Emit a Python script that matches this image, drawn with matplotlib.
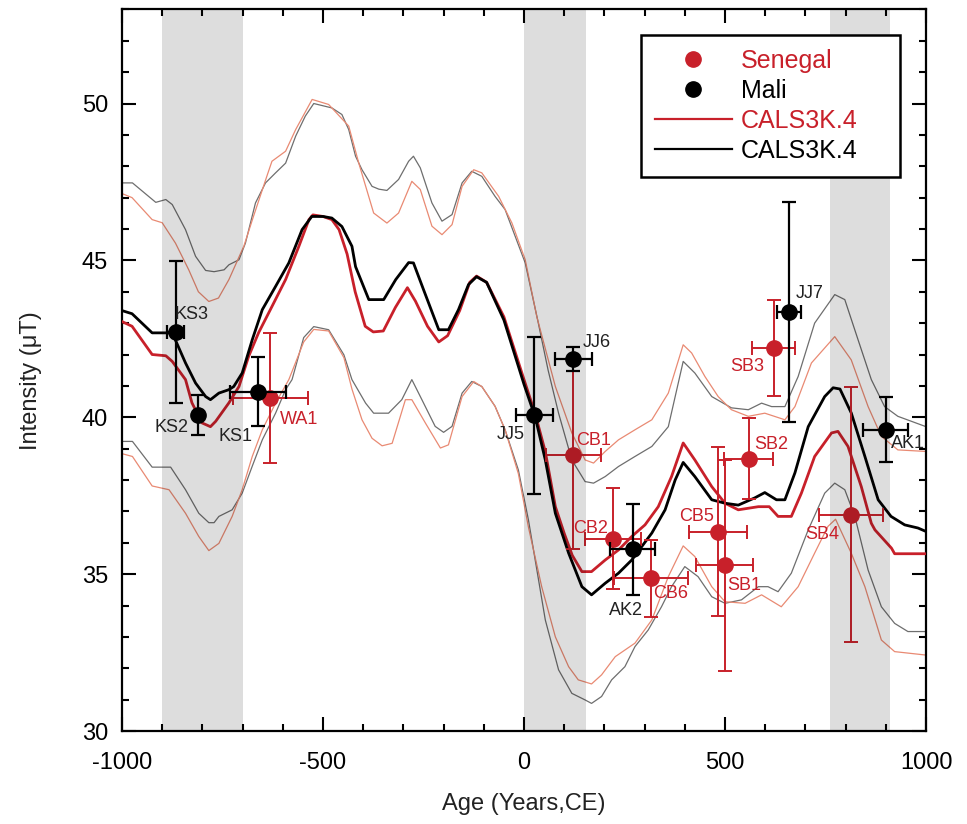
import matplotlib
matplotlib.use("Agg")
import matplotlib.pyplot as plt
from matplotlib.lines import Line2D
from matplotlib.ticker import MultipleLocator

plt.rcParams['font.family'] = ['Liberation Sans', 'DejaVu Sans']
plt.rcParams['axes.unicode_minus'] = False

# ---------------- data ----------------
# CALS3K.4 model for Mali (black thick) and its envelopes (gray thin)
mali_x = [-1000, -975, -925, -875, -842, -817, -792, -780, -759, -734, -722, -701, -676, -651, -618,
          -585, -552, -528, -500, -478, -453, -428, -419, -386, -349, -319, -287, -275, -250, -212,
          -188, -163, -138, -118, -93, -50, 0, 28, 53, 78, 111, 144, 168, 202, 235, 268, 318, 351,
          376, 396, 425, 467, 500, 533, 574, 599, 628, 649, 674, 707, 748, 769, 786, 814, 848, 881,
          913, 947, 980, 1000]
mali_y = [43.4, 43.3, 42.69, 42.69, 41.73, 41.09, 40.66, 40.56, 40.77, 40.88, 40.98, 41.41, 42.47, 43.43,
          44.17, 44.92, 45.98, 46.4, 46.4, 46.35, 46.08, 45.45, 44.8, 43.75, 43.75, 44.39, 44.93, 44.92,
          44.07, 42.79, 42.79, 43.43, 44.23, 44.48, 44.3, 43.1, 41.05, 40.0, 38.64, 36.94, 35.67, 34.6,
          34.34, 34.71, 35.03, 35.45, 36.31, 37.05, 38.0, 38.56, 38.11, 37.37, 37.26, 37.2, 37.43, 37.6,
          37.37, 37.37, 38.23, 39.7, 40.66, 40.94, 40.9, 40.14, 38.75, 37.37, 36.84, 36.57, 36.47, 36.36]

mali_up_x = [-1000, -974, -916, -891, -875, -842, -817, -792, -771, -746, -734, -709, -693, -668, -643,
             -618, -593, -568, -544, -523, -478, -453, -436, -419, -403, -378, -361, -341, -312, -287,
             -275, -258, -229, -204, -179, -154, -130, -105, -72, -47, -22, 3, 34, 60, 86, 119, 152,
             173, 202, 235, 276, 318, 359, 396, 425, 467, 516, 558, 591, 616, 649, 682, 723, 773, 798,
             831, 864, 897, 930, 1000]
mali_up_y = [47.47, 47.47, 46.85, 46.94, 46.78, 45.98, 45.13, 44.68, 44.64, 44.7, 44.86, 45.02, 45.55,
             46.83, 47.47, 47.79, 48.1, 48.96, 49.6, 50.0, 49.86, 49.65, 49.17, 48.32, 47.89, 47.36,
             47.27, 47.23, 47.58, 48.16, 48.32, 47.95, 46.83, 46.25, 46.46, 47.47, 47.84, 47.68, 47.04,
             46.62, 45.77, 44.92, 43.1, 41.5, 40.13, 38.64, 37.95, 37.9, 38.11, 38.43, 38.75, 39.07,
             39.7, 41.78, 41.41, 40.66, 40.3, 40.24, 40.45, 40.34, 40.34, 41.3, 43.0, 43.91, 43.75,
             42.47, 41.2, 40.34, 40.03, 39.7]

mali_lo_x = [-1000, -974, -925, -879, -842, -809, -784, -771, -759, -726, -701, -676, -651, -618, -593,
             -577, -548, -523, -486, -448, -428, -394, -374, -337, -304, -279, -254, -221, -200, -179,
             -154, -130, -105, -72, -47, -14, 11, 53, 86, 119, 152, 168, 193, 218, 251, 276, 309, 342,
             367, 400, 433, 467, 500, 541, 583, 607, 632, 665, 707, 748, 773, 798, 823, 856, 889, 922,
             955, 1000]
mali_lo_y = [39.23, 39.23, 38.41, 38.41, 37.69, 36.94, 36.64, 36.64, 36.84, 37.05, 37.58, 38.44, 39.28,
             40.13, 40.88, 41.2, 42.54, 42.89, 42.79, 41.99, 41.2, 40.45, 40.13, 40.13, 40.56, 41.2,
             40.56, 39.71, 39.52, 39.71, 40.77, 41.14, 40.98, 40.35, 39.6, 38.32, 36.73, 33.54, 31.95,
             31.2, 30.99, 30.88, 31.1, 31.63, 32.05, 32.69, 33.22, 33.96, 34.6, 35.24, 34.92, 34.28,
             34.07, 34.18, 34.6, 34.6, 34.44, 35.03, 36.41, 37.58, 37.9, 37.69, 36.84, 35.13, 33.96,
             33.43, 33.17, 33.17]

# CALS3K.4 model for Senegal (red thick) and its envelopes (salmon thin)
sen_x = [-1000, -975, -925, -891, -875, -842, -826, -801, -780, -767, -734, -709, -685, -660, -627,
         -593, -560, -535, -525, -500, -478, -460, -440, -420, -395, -375, -350, -320, -290, -270,
         -240, -212, -190, -160, -135, -118, -93, -50, 0, 28, 53, 78, 100, 120, 144, 168, 202, 235,
         268, 301, 334, 367, 396, 425, 467, 500, 533, 583, 610, 632, 665, 690, 723, 765, 781, 806,
         839, 864, 873, 914, 922, 1000]
sen_y = [43.05, 42.9, 42.0, 41.96, 41.78, 41.2, 40.46, 39.82, 39.7, 39.87, 40.46, 40.98, 41.94, 42.7,
         43.53, 44.39, 45.45, 46.3, 46.45, 46.4, 46.3, 45.98, 45.2, 44.0, 42.9, 42.72, 42.75, 43.5,
         44.13, 43.7, 42.9, 42.4, 42.6, 43.4, 44.3, 44.5, 44.3, 43.2, 41.2, 40.1, 38.9, 37.15, 36.3,
         35.6, 35.08, 35.08, 35.45, 35.77, 36.2, 36.57, 37.15, 38.11, 39.18, 38.64, 37.79, 37.26,
         37.05, 37.15, 37.15, 36.84, 36.84, 37.58, 38.75, 39.5, 39.55, 39.07, 37.79, 36.62, 36.41,
         35.83, 35.65, 35.65]

sen_up_x = [-1000, -975, -925, -900, -867, -834, -810, -784, -760, -734, -697, -673, -640, -627, -593,
            -568, -527, -486, -436, -411, -374, -341, -312, -279, -258, -229, -204, -179, -154, -125,
            -105, -63, -30, 3, 32, 78, 119, 152, 173, 202, 235, 276, 318, 359, 396, 417, 450, 483,
            516, 558, 599, 649, 674, 715, 773, 814, 856, 889, 930, 1000]
sen_up_y = [47.13, 47.0, 46.3, 46.2, 45.55, 44.7, 44.0, 43.69, 43.8, 44.39, 45.45, 46.4, 47.67, 48.16,
            48.48, 49.17, 50.13, 49.97, 49.28, 48.1, 46.51, 46.19, 46.51, 47.52, 47.26, 46.09, 45.82,
            46.14, 47.36, 47.89, 47.79, 47.04, 46.19, 45.02, 43.2, 40.98, 39.5, 38.64, 38.54, 38.91,
            39.28, 39.6, 39.92, 40.77, 42.31, 42.05, 41.3, 40.66, 40.24, 40.03, 40.13, 39.92, 40.34,
            41.73, 42.57, 41.83, 40.34, 39.39, 38.96, 38.91]

sen_lo_x = [-1000, -974, -925, -883, -842, -809, -784, -759, -726, -701, -676, -651, -618, -585, -548,
            -523, -486, -448, -428, -403, -378, -353, -328, -295, -279, -245, -208, -188, -154, -125,
            -105, -72, -47, -14, 11, 44, 78, 111, 135, 168, 193, 227, 276, 318, 359, 396, 425, 467,
            500, 550, 591, 640, 682, 723, 756, 775, 814, 848, 889, 922, 1000]
sen_lo_y = [38.84, 38.75, 37.81, 37.69, 36.94, 36.2, 35.75, 35.98, 36.84, 37.69, 38.75, 39.6, 40.45,
            41.2, 42.4, 42.8, 42.75, 41.9, 40.9, 39.92, 39.33, 39.09, 39.17, 40.56, 40.56, 39.81, 39.02,
            39.12, 40.66, 41.14, 40.98, 40.35, 39.6, 38.2, 36.5, 34.6, 33.0, 32.05, 31.63, 31.5, 31.79,
            32.37, 32.8, 33.54, 34.92, 35.9, 35.56, 34.6, 34.12, 34.07, 34.34, 33.96, 34.6, 35.67,
            36.52, 36.75, 35.67, 34.6, 32.9, 32.53, 32.42]

# Archaeointensity data
sen_names = ['WA1', 'CB1', 'CB2', 'CB6', 'CB5', 'SB1', 'SB2', 'SB3', 'SB4']
sen_age = [-631, 123, 221, 316, 482, 499, 559, 621, 814]
sen_age_err = [93, 68, 69, 93, 72, 71, 61, 53, 80]
sen_int = [40.6, 38.8, 36.13, 34.87, 36.35, 35.28, 38.68, 42.22, 36.9]
sen_int_err = [2.07, 3.0, 1.6, 1.23, 2.7, 3.37, 1.29, 1.53, 4.05]

mali_names = ['KS3', 'KS2', 'KS1', 'JJ5', 'JJ6', 'AK2', 'JJ7', 'AK1']
mali_age = [-866, -812, -662, 26, 123, 270, 659, 900]
mali_age_err = [21, 0, 70, 47, 45, 57, 29, 56]
mali_int = [42.71, 40.07, 40.81, 40.06, 41.87, 35.8, 43.35, 39.6]
mali_int_err = [2.26, 0.63, 1.1, 2.5, 0.38, 1.45, 3.5, 1.03]

# shaded periods
bands = [(-900, -700), (0, 155), (762, 910)]

legend_labels = ['Senegal', 'Mali', 'CALS3K.4', 'CALS3K.4']

# ---------------- styling ----------------
RED = '#c8202a'
SALMON = '#e98a73'
GRAY = '#6e6e6e'

label_offsets = {  # pixel offsets of point labels
    'KS3': (16, 18), 'KS2': (-26, -12), 'KS1': (-22, -45), 'WA1': (29, -21),
    'JJ5': (-24, -19), 'JJ6': (23, 16), 'CB1': (20, 14), 'CB2': (-22, 10),
    'CB6': (20, -15), 'AK2': (-7, -61), 'CB5': (-21, 15), 'SB1': (20, -20),
    'SB2': (22, 14), 'SB3': (-26, -19), 'JJ7': (21, 19), 'AK1': (22, -14),
    'SB4': (-29, -20),
}

fig = plt.figure(figsize=(9.67, 8.24), dpi=100)
ax = fig.add_axes([122 / 967, 1 - 731 / 824, (926 - 122) / 967, (731 - 9.4) / 824])

# envelopes
ax.plot(mali_up_x, mali_up_y, color=GRAY, lw=0.9, zorder=2)
ax.plot(mali_lo_x, mali_lo_y, color=GRAY, lw=0.9, zorder=2)
ax.plot(sen_up_x, sen_up_y, color=SALMON, lw=0.9, zorder=2)
ax.plot(sen_lo_x, sen_lo_y, color=SALMON, lw=0.9, zorder=2)
# models
ax.plot(sen_x, sen_y, color=RED, lw=2.0, zorder=3)
ax.plot(mali_x, mali_y, color='black', lw=2.0, zorder=3)

# data points
ax.errorbar(sen_age, sen_int, xerr=sen_age_err, yerr=sen_int_err, fmt='o', color=RED,
            ms=11, elinewidth=1.4, capsize=5, capthick=1.4, zorder=4)
ax.errorbar(mali_age, mali_int, xerr=mali_age_err, yerr=mali_int_err, fmt='o', color='black',
            ms=11, elinewidth=1.6, capsize=5, capthick=1.6, zorder=4.2)

for n, xv, yv in zip(sen_names, sen_age, sen_int):
    dx, dy = label_offsets[n]
    ax.annotate(n, (xv, yv), xytext=(dx, dy), textcoords='offset pixels', ha='center',
                va='center', fontsize=13, color=RED, zorder=6)
for n, xv, yv in zip(mali_names, mali_age, mali_int):
    dx, dy = label_offsets[n]
    ax.annotate(n, (xv, yv), xytext=(dx, dy), textcoords='offset pixels', ha='center',
                va='center', fontsize=13, color='#222222', zorder=6)

# shaded bands (multiply-like darkening)
for a, b in bands:
    ax.axvspan(a, b, color='black', alpha=0.135, lw=0, zorder=5)

ax.set_xlim(-1000, 1000)
ax.set_ylim(30, 53)
ax.xaxis.set_major_locator(MultipleLocator(500))
ax.xaxis.set_minor_locator(MultipleLocator(100))
ax.yaxis.set_major_locator(MultipleLocator(5))
ax.yaxis.set_minor_locator(MultipleLocator(1))
ax.tick_params(which='both', direction='in', top=True, right=True, width=1.5)
ax.tick_params(which='major', length=10, labelsize=17)
ax.tick_params(which='minor', length=5)
ax.tick_params(axis='x', which='major', pad=15)
ax.tick_params(axis='y', which='major', pad=10)
for s in ax.spines.values():
    s.set_linewidth(1.6)

ax.set_xlabel('Age (Years,CE)', fontsize=17, color='#222222')
ax.set_ylabel('Intensity (μT)', fontsize=17, color='#222222')
ax.xaxis.set_label_coords(0.5, -0.086)
ax.yaxis.set_label_coords(-0.099, 0.485)

handles = [
    Line2D([], [], marker='o', ls='none', color=RED, ms=11),
    Line2D([], [], marker='o', ls='none', color='black', ms=11),
    Line2D([], [], color=RED, lw=1.6),
    Line2D([], [], color='black', lw=1.6),
]
leg = ax.legend(handles, legend_labels, loc='upper left',
                bbox_to_anchor=(0.6455, 0.7691, 0.3222, 0.1954), mode='expand',
                borderaxespad=0, fontsize=18, frameon=True, fancybox=False, framealpha=1,
                edgecolor='black', handlelength=3.1, handletextpad=0.35, labelspacing=0.24,
                borderpad=0.55)
leg.get_frame().set_linewidth(1.8)
leg.set_zorder(10)
for t, c in zip(leg.get_texts(), [RED, 'black', RED, 'black']):
    t.set_color(c)

fig.savefig('out.png', dpi=100)
